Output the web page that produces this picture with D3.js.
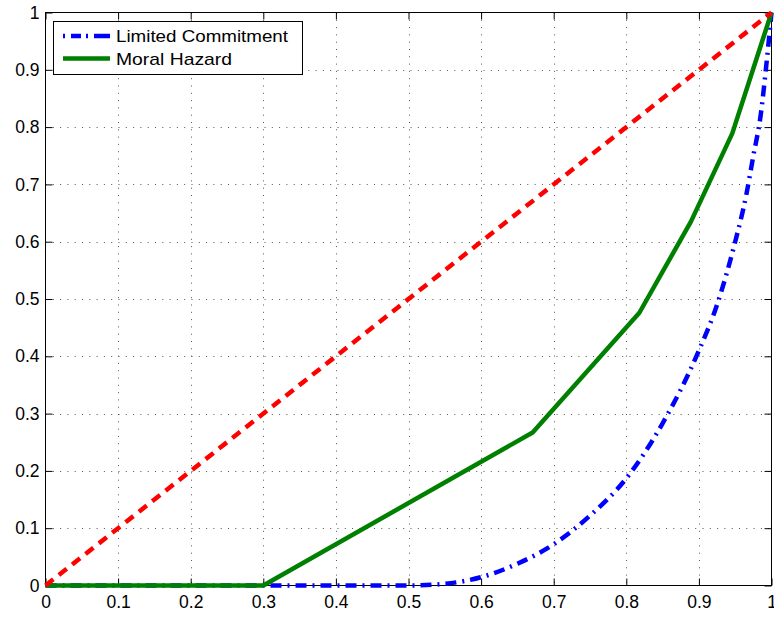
<!DOCTYPE html>
<html>
<head>
<meta charset="utf-8">
<script src="https://cdn.jsdelivr.net/npm/d3@7/dist/d3.min.js"></script>
<style>
  html, body { margin: 0; padding: 0; background: #fff; }
  svg { display: block; }
  text { font-family: "Liberation Sans", Arial, Helvetica, sans-serif; }
</style>
</head>
<body>
<svg id="chart" width="774" height="619"></svg>
<script>
// ---- data ----
const xTicks = [0, 0.1, 0.2, 0.3, 0.4, 0.5, 0.6, 0.7, 0.8, 0.9, 1];
const yTicks = [0, 0.1, 0.2, 0.3, 0.4, 0.5, 0.6, 0.7, 0.8, 0.9, 1];
const xTickLabels = ["0", "0.1", "0.2", "0.3", "0.4", "0.5", "0.6", "0.7", "0.8", "0.9", "1"];
const yTickLabels = ["0", "0.1", "0.2", "0.3", "0.4", "0.5", "0.6", "0.7", "0.8", "0.9", "1"];

const seriesNames = ["Limited Commitment", "Moral Hazard"];

const lcX = [0, 0.3, 0.5, 0.55, 0.6, 0.65, 0.7, 0.75, 0.8, 0.85, 0.9, 0.925, 0.95, 0.965, 0.975, 0.985, 0.993, 1];
const lcY = [0, 0, 0, 0.003, 0.0145, 0.038, 0.072, 0.122, 0.187, 0.283, 0.41, 0.49, 0.60, 0.68, 0.75, 0.82, 0.91, 1];

const mhX = [0, 0.3, 0.671, 0.818, 0.889, 0.946, 1];
const mhY = [0, 0, 0.267, 0.476, 0.635, 0.789, 1];

const eqX = [0, 1];
const eqY = [0, 1];

// ---- layout ----
const L = 45.5, R = 771.5, T = 12.5, B = 585.5;
const svg = d3.select("#chart");
const x = d3.scaleLinear().domain([0, 1]).range([L, R]);
const y = d3.scaleLinear().domain([0, 1]).range([B, T]);

// grid
const grid = svg.append("g").attr("stroke", "#555").attr("stroke-width", 1)
  .attr("stroke-dasharray", "1,6.3").attr("fill", "none");
xTicks.filter(v => v > 0 && v < 1).forEach(v => {
  grid.append("line").attr("x1", Math.round(x(v)) + 0.5).attr("x2", Math.round(x(v)) + 0.5)
    .attr("y1", T).attr("y2", B);
});
yTicks.filter(v => v > 0 && v < 1).forEach(v => {
  grid.append("line").attr("y1", Math.round(y(v)) + 0.5).attr("y2", Math.round(y(v)) + 0.5)
    .attr("x1", L).attr("x2", R);
});

// axes
const fontSize = 17.5;
const gx = svg.append("g").attr("transform", `translate(0,${B})`)
  .call(d3.axisBottom(x).tickValues(xTicks).tickFormat((d, i) => xTickLabels[i]).tickSize(-7).tickPadding(10));
const gy = svg.append("g").attr("transform", `translate(${L},0)`)
  .call(d3.axisLeft(y).tickValues(yTicks).tickFormat((d, i) => yTickLabels[i]).tickSize(-7).tickPadding(6));
const gt = svg.append("g").attr("transform", `translate(0,${T})`)
  .call(d3.axisTop(x).tickValues(xTicks).tickFormat("").tickSize(-7));
const gr = svg.append("g").attr("transform", `translate(${R},0)`)
  .call(d3.axisRight(y).tickValues(yTicks).tickFormat("").tickSize(-7));
[gx, gy, gt, gr].forEach(g => {
  g.select(".domain").remove();
  g.selectAll("line").attr("stroke", "#000");
  g.selectAll("text").attr("fill", "#000").style("font-size", fontSize + "px")
    .style("font-family", '"Liberation Sans", Arial, sans-serif');
});

// box
svg.append("rect").attr("x", L).attr("y", T).attr("width", R - L).attr("height", B - T)
  .attr("fill", "none").attr("stroke", "#000").attr("stroke-width", 1);

// lines
const line = d3.line().x(d => x(d[0])).y(d => y(d[1]));
const smooth = d3.line().x(d => x(d[0])).y(d => y(d[1])).curve(d3.curveMonotoneX);
const lc = lcX.map((v, i) => [v, lcY[i]]);
const mh = mhX.map((v, i) => [v, mhY[i]]);
const eq = eqX.map((v, i) => [v, eqY[i]]);

svg.append("path").datum(lc).attr("d", smooth).attr("fill", "none")
  .attr("stroke", "#0000ff").attr("stroke-width", 4.5).attr("stroke-dasharray", "11,6,2,6");
svg.append("path").datum(mh).attr("d", line).attr("fill", "none")
  .attr("stroke", "#008000").attr("stroke-width", 4.5).attr("stroke-linejoin", "round");
svg.append("path").datum(eq).attr("d", line).attr("fill", "none")
  .attr("stroke", "#ff0000").attr("stroke-width", 4.5).attr("stroke-dasharray", "10,7");

// legend
const lg = svg.append("g");
lg.append("rect").attr("x", 53.5).attr("y", 21.5).attr("width", 249).attr("height", 53)
  .attr("fill", "#fff").attr("stroke", "#000").attr("stroke-width", 1);
const legendStyles = [
  { color: "#0000ff", dash: "2,6,10,5,2,6,16", y: 36, tl: 172 },
  { color: "#008000", dash: null, y: 58.5, tl: 116 }
];
seriesNames.forEach((name, i) => {
  const s = legendStyles[i];
  const l = lg.append("line").attr("x1", 63).attr("x2", 110).attr("y1", s.y).attr("y2", s.y)
    .attr("stroke", s.color).attr("stroke-width", 4.5);
  if (s.dash) l.attr("stroke-dasharray", s.dash);
  lg.append("text").attr("x", 116).attr("y", s.y + 6).text(name)
    .style("font-size", "17px").attr("fill", "#000")
    .attr("textLength", s.tl).attr("lengthAdjust", "spacingAndGlyphs");
});
</script>
</body>
</html>
